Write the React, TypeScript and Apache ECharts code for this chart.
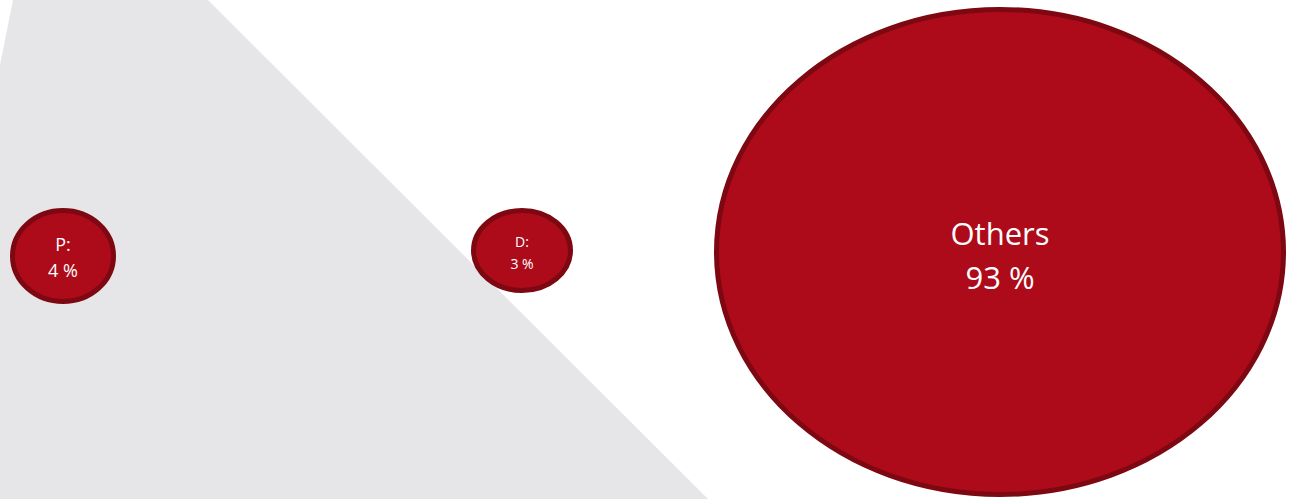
import React, { useEffect, useRef } from "react";
import * as echarts from "echarts";

// Data
const categories = ["P:", "D:", "Others"];
const percentValues = [4, 3, 93];

// Layout (pixel space of the 1293x499 canvas)
const centerX = [63, 522, 1000];
const centerY = [256, 250.5, 252];
const radiusX = [50.5, 48.5, 283.5];
const radiusY = [45.5, 40, 242.5];
const fontSizes = [18, 14, 31];
const lineHeights = [26, 22, 44];
const textOffsetY = [1, 1.5, 3];

const W = 1293;
const H = 499;

export default function App() {
  const ref = useRef<HTMLDivElement>(null);
  useEffect(() => {
    document.body.style.margin = "0";
    const chart = echarts.init(ref.current!, null, { renderer: "svg" });
    const data = categories.map((c, i) => [centerX[i], centerY[i], percentValues[i], i]);
    chart.setOption({
      animation: false,
      backgroundColor: "#ffffff",
      grid: { left: 0, right: 0, top: 0, bottom: 0 },
      xAxis: { type: "value", min: 0, max: W, show: false },
      yAxis: { type: "value", min: 0, max: H, inverse: true, show: false },
      graphic: [
        {
          type: "polygon",
          z: -10,
          shape: {
            points: [
              [13, 0],
              [208, 0],
              [708, 499],
              [0, 499],
              [0, 65],
            ],
          },
          style: { fill: "#E6E6E8" },
          silent: true,
        },
      ],
      series: [
        {
          type: "custom",
          data,
          renderItem: (params: any, api: any) => {
            const i = api.value(3);
            const p = api.coord([api.value(0), api.value(1)]);
            const label = categories[i] + "\n" + api.value(2) + " %";
            return {
              type: "group",
              children: [
                {
                  type: "ellipse",
                  shape: { cx: p[0], cy: p[1], rx: radiusX[i], ry: radiusY[i] },
                  style: { fill: "#AD0B1A", stroke: "#7E0812", lineWidth: 5 },
                },
                {
                  type: "text",
                  x: p[0],
                  y: p[1] + textOffsetY[i],
                  style: {
                    text: label,
                    fill: "#ffffff",
                    fontFamily: "Open Sans",
                    fontSize: fontSizes[i],
                    lineHeight: lineHeights[i],
                    align: "center",
                    verticalAlign: "middle",
                  },
                },
              ],
            };
          },
        },
      ],
    });
    return () => chart.dispose();
  }, []);
  return <div ref={ref} style={{ position: "fixed", left: 0, top: 0, width: W, height: H }} />;
}
